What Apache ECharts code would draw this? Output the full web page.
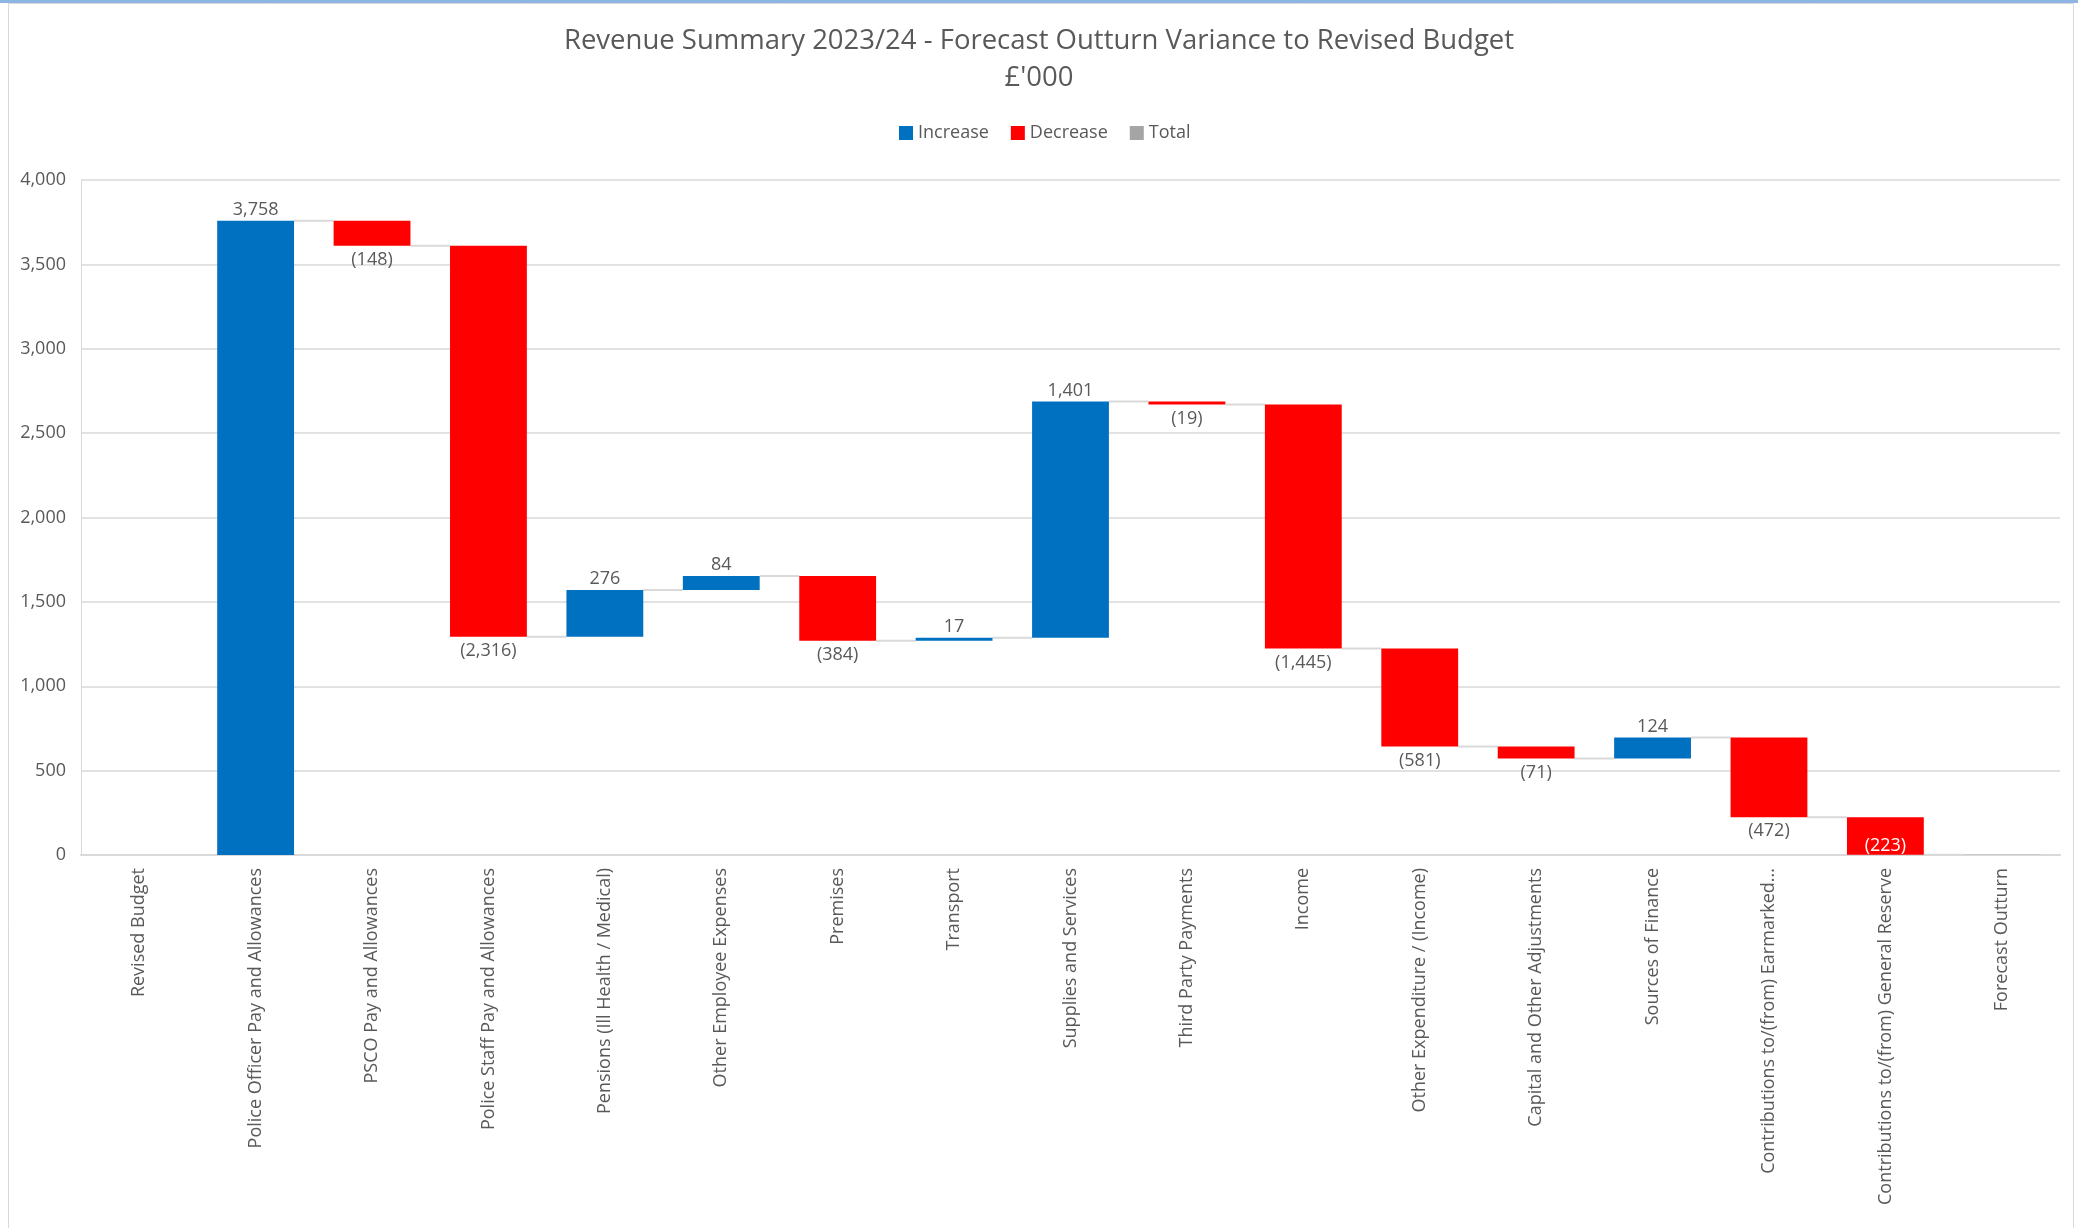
<!DOCTYPE html>
<html>
<head>
<meta charset="utf-8">
<title>Revenue Summary 2023/24</title>
<script src="https://cdn.jsdelivr.net/npm/echarts@6/dist/echarts.min.js"></script>
<style>
  html, body { margin: 0; padding: 0; background: #ffffff; }
  #chart { width: 2078px; height: 1228px; }
</style>
</head>
<body>
<div id="chart"></div>
<script>
// Category names along the x axis (first and last are totals)
const categories = [
  'Revised Budget',
  'Police Officer Pay and Allowances',
  'PSCO Pay and Allowances',
  'Police Staff Pay and Allowances',
  'Pensions (Ill Health / Medical)',
  'Other Employee Expenses',
  'Premises',
  'Transport',
  'Supplies and Services',
  'Third Party Payments',
  'Income',
  'Other Expenditure / (Income)',
  'Capital and Other Adjustments',
  'Sources of Finance',
  'Contributions to/(from) Earmarked...',
  'Contributions to/(from) General Reserve',
  'Forecast Outturn'
];

// Variance per line (£'000); null marks a total column
const variances = [null, 3758, -148, -2316, 276, 84, -384, 17, 1401, -19, -1445, -581, -71, 124, -472, -223, null];

// Opening total the waterfall starts from
const openingTotal = 0;

// Y axis ticks
const yTicks = { min: 0, max: 4000, interval: 500 };

const COLORS = { increase: '#0070C0', decrease: '#FF0000', total: '#A5A5A5', text: '#595959', grid: '#D9D9D9' };
const FONT = "'Open Sans', 'Noto Sans', sans-serif";

const fmt = v => Math.round(v).toLocaleString('en-US');

// Build stacked waterfall pieces from the variances
const baseData = [], incData = [], decData = [], totalData = [], levels = [];
let running = openingTotal;
variances.forEach((v, i) => {
  if (v === null) {
    const t = i === 0 ? openingTotal : running;
    baseData.push(0); incData.push('-'); decData.push('-'); totalData.push(t);
    levels.push(t);
  } else {
    const start = running, end = running + v;
    baseData.push(Math.min(start, end));
    totalData.push('-');
    if (v >= 0) {
      incData.push(v); decData.push('-');
    } else {
      incData.push('-');
      // a label that would drop below the axis is drawn inside the bar
      if (end < 150) {
        decData.push({ value: -v, label: { position: 'insideBottom', color: '#ffffff', distance: 0 } });
      } else {
        decData.push(-v);
      }
    }
    running = end;
    levels.push(end);
  }
});

// Connector lines join each column to the next at the running level
const connectorData = levels.slice(0, -1).map((lv, i) => [i, lv]);

const BAR_RATIO = 0.66;

const chart = echarts.init(document.getElementById('chart'), null, { renderer: 'canvas' });

chart.setOption({
  backgroundColor: '#ffffff',
  animation: false,
  textStyle: { fontFamily: FONT },
  graphic: [
    { type: 'rect', shape: { x: 0, y: 0, width: 2078, height: 3 }, style: { fill: '#8EB4E3' }, silent: true },
    { type: 'rect', shape: { x: 8.5, y: 3.5, width: 2065, height: 1240 }, style: { fill: 'none', stroke: '#D9D9D9', lineWidth: 1 }, silent: true }
  ],
  title: {
    text: "Revenue Summary 2023/24 - Forecast Outturn Variance to Revised Budget\n£'000",
    left: 'center',
    top: 18,
    textStyle: { fontFamily: FONT, fontSize: 27.5, fontWeight: 'normal', color: COLORS.text, lineHeight: 37 }
  },
  legend: {
    data: ['Increase', 'Decrease', 'Total'],
    left: 894,
    top: 119,
    icon: 'rect',
    itemWidth: 14,
    itemHeight: 14,
    itemGap: 22,
    textStyle: { fontFamily: FONT, fontSize: 18, color: COLORS.text }
  },
  grid: { left: 81, right: 18, top: 180, bottom: 373, containLabel: false },
  xAxis: {
    type: 'category',
    data: categories,
    axisLine: { show: true, lineStyle: { color: COLORS.grid, width: 2 } },
    axisTick: { show: false },
    axisLabel: { rotate: 90, interval: 0, margin: 13, fontFamily: FONT, fontSize: 18, color: COLORS.text }
  },
  yAxis: {
    type: 'value',
    min: yTicks.min,
    max: yTicks.max,
    interval: yTicks.interval,
    axisLine: { show: true, lineStyle: { color: COLORS.grid, width: 1 } },
    axisTick: { show: false },
    splitLine: { lineStyle: { color: COLORS.grid, width: 1.5 } },
    axisLabel: { fontFamily: FONT, fontSize: 18, color: COLORS.text, margin: 15, formatter: v => fmt(v) }
  },
  series: [
    {
      name: 'base', type: 'bar', stack: 'wf', silent: true,
      barCategoryGap: '34%',
      itemStyle: { color: 'transparent' },
      data: baseData
    },
    {
      name: 'Increase', type: 'bar', stack: 'wf',
      itemStyle: { color: COLORS.increase },
      label: { show: true, position: 'top', distance: 2, fontFamily: FONT, fontSize: 18, color: COLORS.text, formatter: p => fmt(p.value) },
      data: incData
    },
    {
      name: 'Decrease', type: 'bar', stack: 'wf',
      itemStyle: { color: COLORS.decrease },
      label: { show: true, position: 'bottom', distance: 5, fontFamily: FONT, fontSize: 18, color: COLORS.text, formatter: p => '(' + fmt(p.value) + ')' },
      data: decData
    },
    {
      name: 'Total', type: 'bar', stack: 'wf',
      itemStyle: { color: COLORS.total },
      data: totalData
    },
    {
      name: 'connectors', type: 'custom', silent: true, z: 1,
      renderItem: (params, api) => {
        const p = api.coord([api.value(0), api.value(1)]);
        const band = api.size([1, 0])[0];
        const half = band * BAR_RATIO / 2;
        return {
          type: 'line',
          shape: { x1: p[0] + half, y1: p[1], x2: p[0] + band - half, y2: p[1] },
          style: { stroke: COLORS.grid, lineWidth: 2 }
        };
      },
      data: connectorData
    }
  ]
});
</script>
</body>
</html>
